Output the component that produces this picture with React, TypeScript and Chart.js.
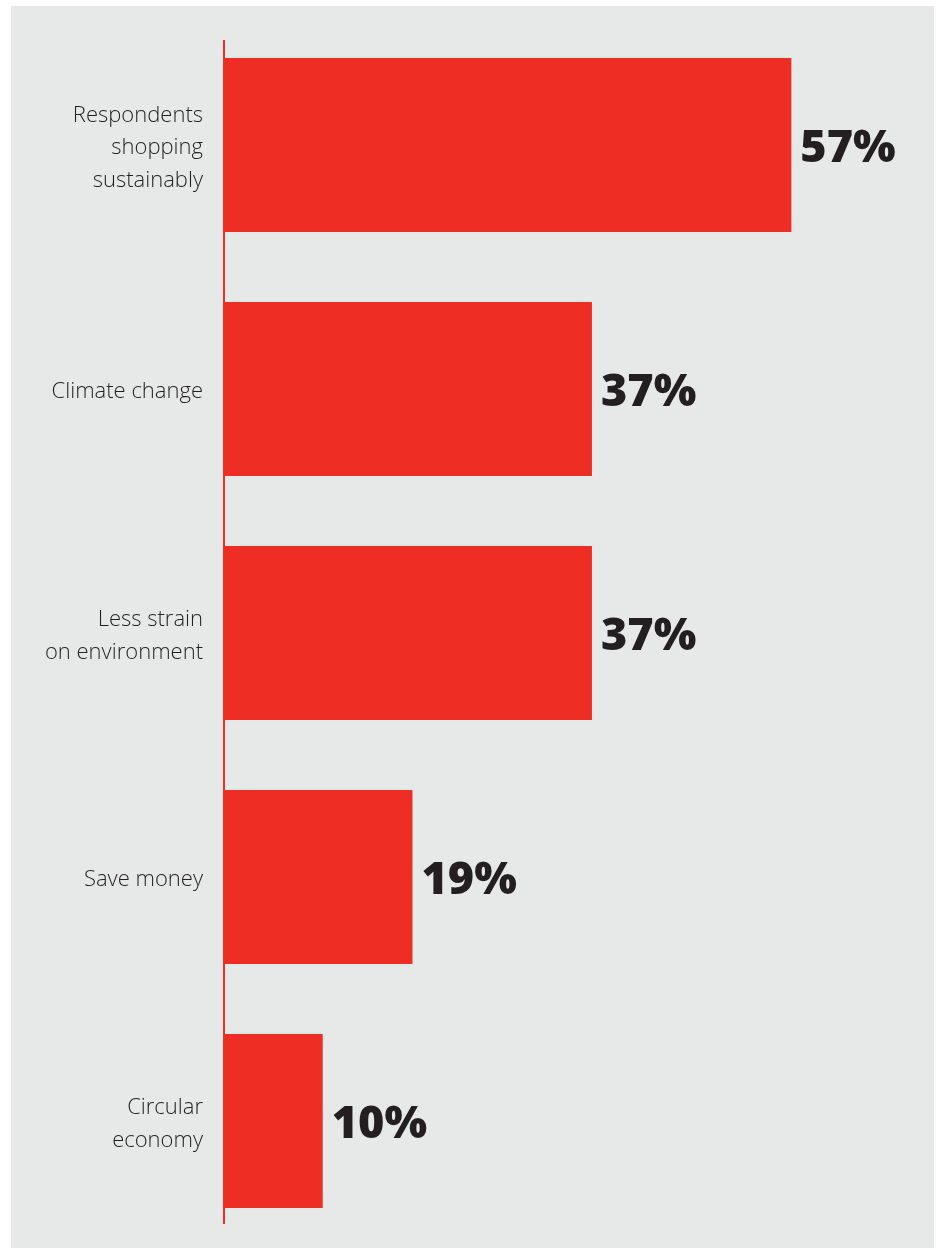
import React, { useEffect, useRef } from "react";
import { Chart, registerables } from "chart.js";

Chart.register(...registerables);

const categories: string[][] = [
  ["Respondents", "shopping", "sustainably"],
  ["Climate change"],
  ["Less strain", "on environment"],
  ["Save money"],
  ["Circular", "economy"],
];
const values: number[] = [57, 37, 37, 19, 10];
const valueLabels: string[] = ["57%", "37%", "37%", "19%", "10%"];

const RED = "#ee2e24";
const BG = "#e7e8e8";
const TEXT = "#231f20";

export default function App() {
  const ref = useRef<HTMLCanvasElement | null>(null);

  useEffect(() => {
    if (!ref.current) return;
    const valuePlugin = {
      id: "valueLabels",
      afterDatasetsDraw(chart: any) {
        const ctx = chart.ctx;
        const meta = chart.getDatasetMeta(0);
        const yScale = chart.scales.y;
        ctx.save();
        // category labels
        ctx.font = "300 22px 'Open Sans'";
        ctx.fillStyle = TEXT;
        ctx.textAlign = "right";
        ctx.textBaseline = "middle";
        const lh = 32.5;
        categories.forEach((lines, i) => {
          const cy = yScale.getPixelForValue(i) + 3;
          lines.forEach((line, j) => {
            const y = cy + (j - (lines.length - 1) / 2) * lh;
            ctx.fillText(line, yScale.right - 20, y);
          });
        });
        // value labels
        ctx.font = "800 45px 'Open Sans'";
        ctx.textAlign = "left";
        meta.data.forEach((bar: any, i: number) => {
          ctx.fillText(valueLabels[i], bar.x + 9, bar.y + 4);
        });
        // axis line
        const first = meta.data[0];
        const last = meta.data[meta.data.length - 1];
        const x0 = chart.scales.x.getPixelForValue(0);
        ctx.strokeStyle = RED;
        ctx.lineWidth = 2;
        ctx.beginPath();
        ctx.moveTo(x0 + 1, first.y - first.height / 2 - 18);
        ctx.lineTo(x0 + 1, last.y + last.height / 2 + 16);
        ctx.stroke();
        ctx.restore();
      },
    };
    const chart = new Chart(ref.current, {
      type: "bar",
      data: {
        labels: categories,
        datasets: [
          {
            data: values,
            backgroundColor: RED,
            borderWidth: 0,
            categoryPercentage: 0.713,
            barPercentage: 1,
          },
        ],
      },
      options: {
        indexAxis: "y",
        animation: false,
        responsive: false,
        maintainAspectRatio: false,
        layout: { padding: { left: 0, right: 13, top: 17, bottom: 5 } },
        plugins: {
          legend: { display: false },
          tooltip: { enabled: false },
        },
        scales: {
          x: {
            min: 0,
            max: 70,
            display: false,
            grid: { display: false },
          },
          y: {
            border: { display: false },
            grid: { display: false, drawTicks: false },
            afterFit(scale: any) {
              scale.width = 212;
              scale.paddingTop = 0;
              scale.paddingBottom = 0;
            },
            ticks: { display: false },
          },
        },
      },
      plugins: [valuePlugin],
    });
    return () => chart.destroy();
  }, []);

  return (
    <div
      style={{
        position: "fixed",
        left: 11,
        top: 6,
        width: 923,
        height: 1242,
        background: BG,
      }}
    >
      <canvas ref={ref} width={923} height={1242} style={{ display: "block" }} />
    </div>
  );
}
